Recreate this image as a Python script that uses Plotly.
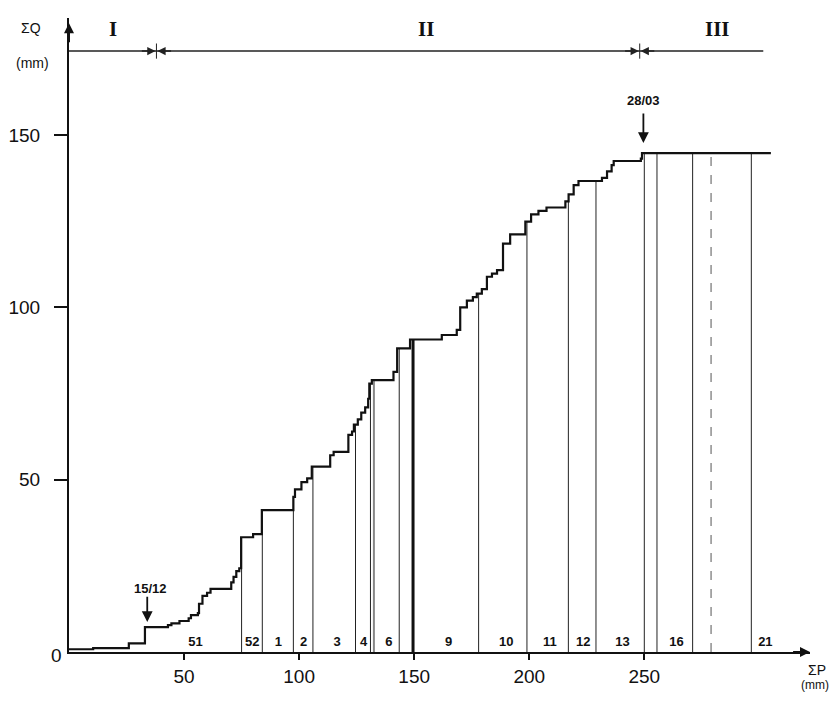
import numpy as np
import plotly.graph_objects as go

# ---------------- data ----------------
# cumulative rainfall (step position) and cumulative runoff after the step
step_P = [0, 10.5, 26, 33, 43, 44.5, 48, 52, 53, 56, 56.5, 58, 60, 61.5, 70.5, 71.5, 72.7, 74,
          74.8, 80, 83.8, 97.5, 98.2, 101, 103.5, 105.5, 113.5, 115, 121.4, 123, 123.8, 125.5,
          127, 128.7, 130, 130.5, 131.6, 141, 142.6, 148.2, 162, 168.5, 170, 172.9, 175.5,
          177.2, 179.4, 181.6, 183.8, 186, 188.6, 191.7, 198.3, 200.8, 204, 207.5, 215.7,
          217.1, 219.3, 221.4, 231.6, 233.8, 235.8, 236.7, 248.5, 249, 305]
step_Q = [0.8, 1.1, 2.5, 7.2, 7.8, 8.3, 9.0, 9.8, 10.7, 11.3, 14.0, 16.3, 17.2, 18.3, 20.2, 21.8,
          23.5, 24.3, 33.3, 34.2, 41.2, 45.0, 47.2, 49.3, 50.4, 53.8, 57.1, 58.1, 63.0, 64.0,
          66.0, 67.5, 69.5, 71.0, 73.5, 77.9, 78.9, 81.3, 88.1, 90.7, 92.0, 93.5, 100.0, 102.0,
          103.0, 104.0, 105.3, 108.9, 109.8, 110.8, 118.5, 121.2, 124.9, 127.0, 128.0, 129.0,
          130.8, 132.8, 135.5, 136.7, 137.6, 139.5, 141.3, 142.5, 143.2, 144.8, 144.8]

# vertical dividers between the periods (sum P, mm)
divider_P = [75, 84, 97.5, 106, 124.5, 131, 132.5, 143.5, 149.5, 178, 199, 217, 229, 250,
             255.5, 271, 279, 296.5]

# period numbers written at the foot of each strip
seg_labels = ["51", "52", "1", "2", "3", "4", "6", "9", "10", "11", "12", "13", "16", "21"]
seg_label_P = [55, 79.6, 91, 102, 116.5, 128, 139, 165, 190, 209, 223.5, 240.5, 264, 302.6]

# phases I / II / III along the top
phase_labels = ["I", "II", "III"]
phase_label_P = [19, 155, 282]
phase_bounds_P = [38, 248]
phase_line_end_P = 301.7
phase_line_Q = 174.4

# dated arrows
date_labels = ["15/12", "28/03"]
date_P = [34, 249.6]

x_ticks = [50, 100, 150, 200, 250]
y_ticks = [50, 100, 150]

X_MAX, Y_MAX = 322, 184

# ---------------- helpers ----------------
sP = np.array(step_P, dtype=float)
sQ = np.array(step_Q, dtype=float)


def curve_at(p):
    i = np.searchsorted(sP, p, side="right") - 1
    return float(sQ[max(i, 0)])


def px(p):
    return p / X_MAX


def py(q):
    return q / Y_MAX


FONT = "Liberation Sans"
fig = go.Figure()

# vertical dividers
thick = {149.5}
grey = {132.5}
dashed = {279}
for p in divider_P:
    top = curve_at(p)
    if p in thick:
        line = dict(color="#111", width=3)
    elif p in grey:
        line = dict(color="#888", width=2)
    elif p in dashed:
        line = dict(color="#555", width=1, dash="dash")
    else:
        line = dict(color="#222", width=1)
    fig.add_trace(go.Scatter(x=[p, p], y=[0, top], mode="lines", line=line,
                             hoverinfo="skip", showlegend=False))

# step curve
fig.add_trace(go.Scatter(x=step_P, y=step_Q, mode="lines", line_shape="hv",
                         line=dict(color="#111", width=2.2), showlegend=False))

# segment labels
fig.add_trace(go.Scatter(x=seg_label_P, y=[2.6] * len(seg_label_P), mode="text",
                         text=["<b>%s</b>" % s for s in seg_labels],
                         textfont=dict(family=FONT, size=13, color="#111"),
                         showlegend=False, cliponaxis=False))

ann = []
shapes = []


def label(p, q, text, size, family=FONT, xanchor="center"):
    ann.append(dict(x=px(p), y=py(q), xref="paper", yref="paper", text=text,
                    showarrow=False, xanchor=xanchor, yanchor="middle",
                    font=dict(family=family, size=size, color="#111")))


# phase line and boundaries
shapes.append(dict(type="line", xref="x", yref="y", x0=0, x1=phase_line_end_P,
                   y0=phase_line_Q, y1=phase_line_Q, line=dict(color="#222", width=1.5)))
for b in phase_bounds_P:
    shapes.append(dict(type="line", xref="x", yref="y", x0=b, x1=b,
                       y0=phase_line_Q - 2.2, y1=phase_line_Q + 2.2,
                       line=dict(color="#222", width=1)))
    for d in (-1, 1):
        ann.append(dict(x=b + d * 0.4, y=phase_line_Q, xref="x", yref="y",
                        ax=b + d * 7, ay=phase_line_Q, axref="x", ayref="y",
                        showarrow=True, arrowhead=2, arrowsize=1.1, arrowwidth=1.5,
                        arrowcolor="#222", text=""))
for t, p in zip(phase_labels, phase_label_P):
    label(p, 180.8, "<b>%s</b>" % t, 21, "Liberation Serif")

# date arrows
date_text_off = [(1.2, 18.3, 16.5, 8.7), (0, 160.1, 156.7, 147.7)]
for t, p, (dx, ty, y0, y1) in zip(date_labels, date_P, date_text_off):
    ann.append(dict(x=p, y=y1, xref="x", yref="y", ax=p, ay=y0, axref="x", ayref="y",
                    showarrow=True, arrowhead=2, arrowsize=1.2, arrowwidth=1.8,
                    arrowcolor="#111", text=""))
    label(p + dx, ty, "<b>%s</b>" % t, 13)

# axis arrows
ann.append(dict(x=0, y=182.5, xref="x", yref="y", ax=0, ay=176.5, axref="x", ayref="y",
                showarrow=True, arrowhead=2, arrowsize=1, arrowwidth=2, arrowcolor="#111",
                text=""))
ann.append(dict(x=322, y=0, xref="x", yref="y", ax=314, ay=0, axref="x", ayref="y",
                showarrow=True, arrowhead=2, arrowsize=1, arrowwidth=2, arrowcolor="#111",
                text=""))

# axis titles and zero label
label(-16.5, 181, "ΣQ", 14)
label(-16, 171, "(mm)", 14)
label(-5.5, -0.9, "0", 19)
label(330, -5.2, "ΣP", 14, xanchor="right")
label(331, -9.6, "(mm)", 12, xanchor="right")

# the page body adds an 8px margin, so the figure is shifted accordingly
fig.update_layout(
    width=830, height=688,
    margin=dict(l=61, r=28, t=10, b=44, pad=0),
    paper_bgcolor="white", plot_bgcolor="white",
    showlegend=False,
    shapes=shapes, annotations=ann,
    xaxis=dict(range=[0, X_MAX], showgrid=False, zeroline=False, showline=True,
               automargin=False,
               linecolor="#111", linewidth=2, ticks="outside", ticklen=6, tickwidth=1.5,
               tickcolor="#111", tickvals=x_ticks, ticktext=[str(v) for v in x_ticks],
               tickfont=dict(family=FONT, size=19, color="#111")),
    yaxis=dict(range=[0, Y_MAX], showgrid=False, zeroline=False, showline=True,
               automargin=False,
               linecolor="#111", linewidth=2, ticks="outside", ticklen=13, tickwidth=1.5,
               tickcolor="#111", tickvals=y_ticks, ticktext=[str(v) for v in y_ticks],
               ticklabelstandoff=10,
               tickfont=dict(family=FONT, size=19, color="#111")),
)

fig.write_html("out.html")
